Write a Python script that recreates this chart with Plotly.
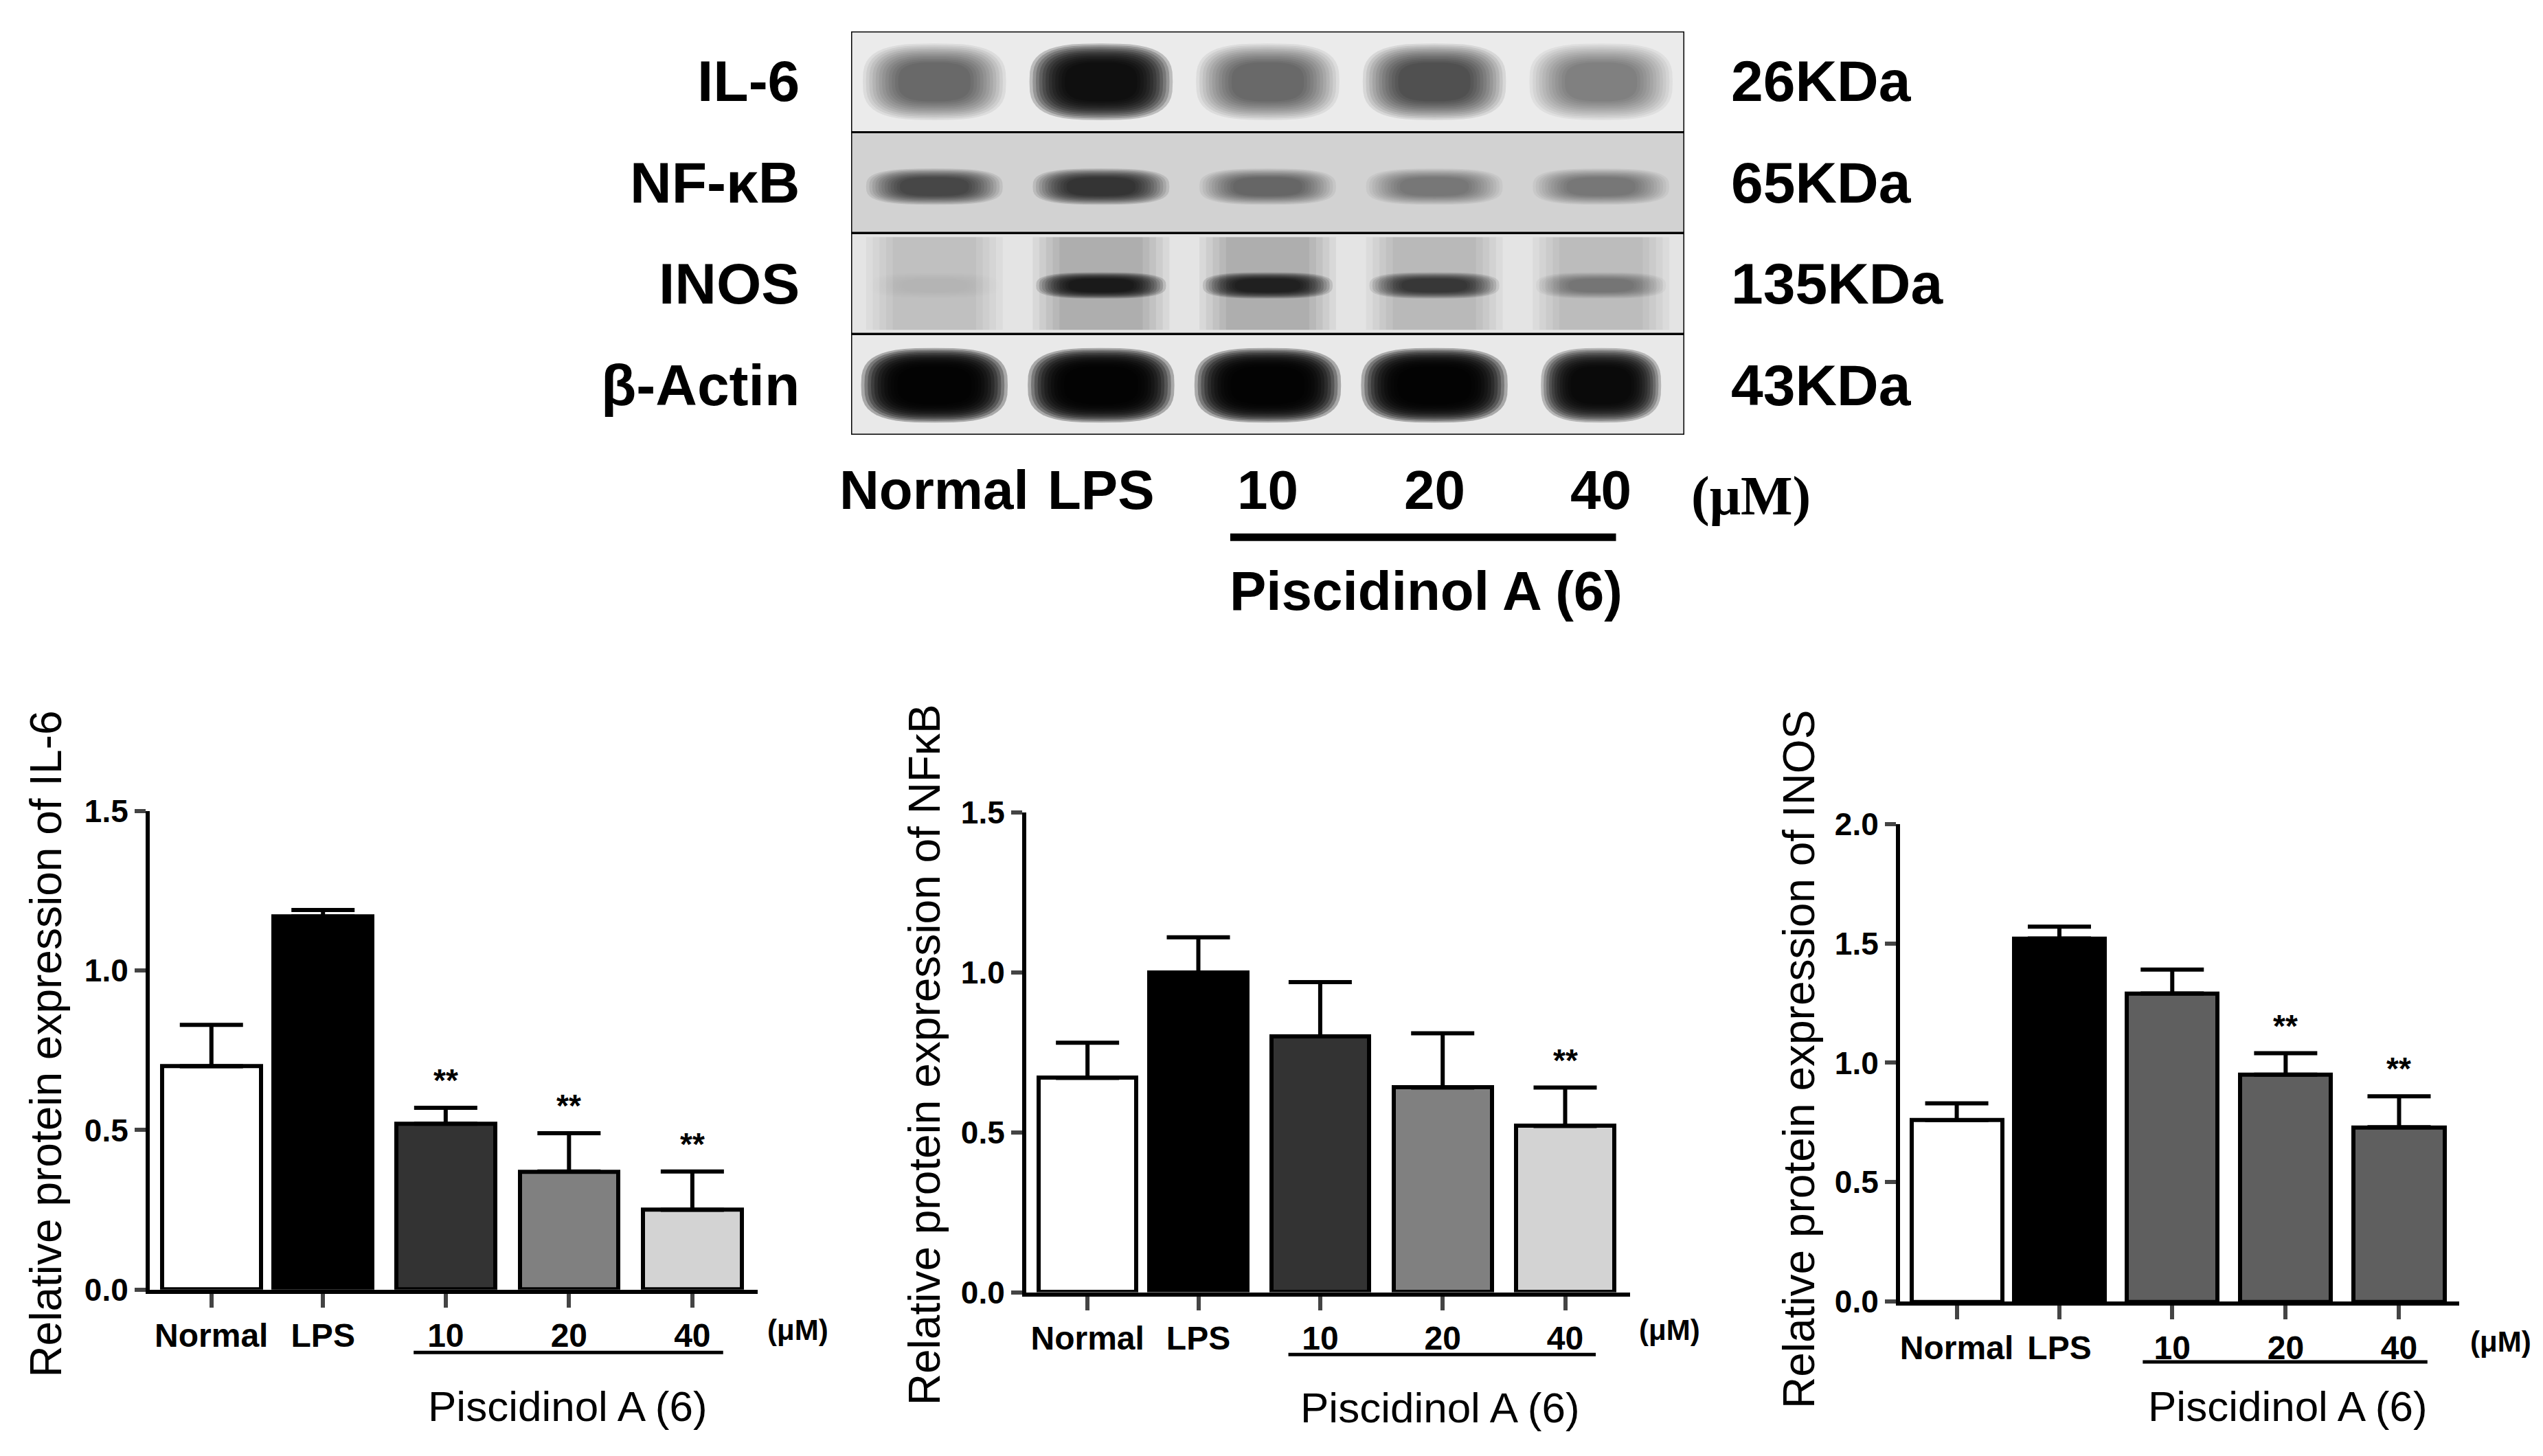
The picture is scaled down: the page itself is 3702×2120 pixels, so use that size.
import plotly.graph_objects as go

# bar chart data
groups = ["Normal", "LPS", "10", "20", "40"]
il6_mean = [0.70, 1.17, 0.52, 0.37, 0.25]
il6_upper = [0.83, 1.19, 0.57, 0.49, 0.37]
nfkb_mean = [0.67, 1.00, 0.80, 0.64, 0.52]
nfkb_upper = [0.78, 1.11, 0.97, 0.81, 0.64]
inos_mean = [0.76, 1.52, 1.29, 0.95, 0.73]
inos_upper = [0.83, 1.57, 1.39, 1.04, 0.86]
il6_sig = ["", "", "**", "**", "**"]
nfkb_sig = ["", "", "", "", "**"]
inos_sig = ["", "", "", "**", "**"]

# western blot band darkness per lane (0 = none, 1 = saturated)
blot_rows = ["IL-6", "NF-κB", "INOS", "β-Actin"]
blot_kda = ["26KDa", "65KDa", "135KDa", "43KDa"]
il6_band = [0.55, 0.95, 0.55, 0.65, 0.45]
nfkb_band = [0.65, 0.75, 0.5, 0.42, 0.42]
inos_band = [0.05, 0.85, 0.8, 0.7, 0.35]
inos_smear = [0.15, 0.25, 0.25, 0.2, 0.17]
actin_band = [1.0, 1.0, 1.0, 1.0, 0.97]

W, H = 3702, 2120
FONT = "Arial, Liberation Sans, sans-serif"


def px(x):
    return x / W


def py(y):
    return 1 - y / H


def note(x, y, text, size, bold=False, xref="paper", yref="paper", xanchor="center",
         angle=0, family=FONT, yshift=0):
    f = dict(family=family, size=size, color="black")
    if bold:
        f["weight"] = "bold"
    return dict(x=x, y=y, xref=xref, yref=yref, text=text, showarrow=False,
                xanchor=xanchor, yanchor="middle", textangle=angle, yshift=yshift, font=f)


def blob(cx, cy, a, b, p=3.0, m=48):
    # rounded-rectangle outline (superellipse) as an svg path in data units
    import math
    pts = []
    for k in range(m):
        t = 2 * math.pi * k / m
        c, s = math.cos(t), math.sin(t)
        x = cx + a * math.copysign(abs(c) ** (2 / p), c)
        y = cy + b * math.copysign(abs(s) ** (2 / p), s)
        pts.append(f"{x:.4f},{y:.4f}")
    return "M" + " L".join(pts) + " Z"


fig = go.Figure()

slots = [0, 0.905, 1.9, 2.9, 3.9]
panels = [
    dict(mean=il6_mean, upper=il6_upper, sig=il6_sig, yr=[0, 1.5],
         colors=["#ffffff", "#000000", "#333333", "#808080", "#d3d3d3"],
         xd=[px(210), px(1095)], yd=[py(1890), py(1176)],
         title="Relative protein expression of IL-6", tx=59, ty=1524,
         um=(1153, 1950), line_y=1984, pis=(818, 2064)),
    dict(mean=nfkb_mean, upper=nfkb_upper, sig=nfkb_sig, yr=[0, 1.5],
         colors=["#ffffff", "#000000", "#333333", "#808080", "#d3d3d3"],
         xd=[px(1486), px(2365)], yd=[py(1894), py(1178)],
         title="Relative protein expression of NFκB", tx=1338, ty=1540,
         um=(2422, 1950), line_y=1987, pis=(2088, 2066)),
    dict(mean=inos_mean, upper=inos_upper, sig=inos_sig, yr=[0, 2.0],
         colors=["#ffffff", "#000000", "#5f5f5f", "#5f5f5f", "#5f5f5f"],
         xd=[px(2758), px(3572)], yd=[py(1908), py(1195)],
         title="Relative protein expression of INOS", tx=2611, ty=1547,
         um=(3632, 1968), line_y=1998, pis=(3322, 2064)),
]

annotations = []
shapes = []
layout_axes = {}

for i, p in enumerate(panels, start=1):
    xa = "x" if i == 1 else f"x{i}"
    ya = "y" if i == 1 else f"y{i}"
    fig.add_trace(go.Bar(
        x=slots, y=p["mean"], width=0.80, xaxis=xa, yaxis=ya,
        marker=dict(color=p["colors"], line=dict(color="black", width=6)),
        error_y=dict(type="data", symmetric=False,
                     array=[u - m for u, m in zip(p["upper"], p["mean"])],
                     arrayminus=[0] * 5, thickness=6, width=46, color="black"),
        showlegend=False, hoverinfo="skip",
    ))
    layout_axes["xaxis" if i == 1 else f"xaxis{i}"] = dict(
        domain=p["xd"], range=[-0.5, 4.43], anchor=ya,
        tickvals=slots, ticktext=groups, ticks="outside", ticklen=20, tickwidth=6,
        showline=True, linewidth=6, linecolor="black", showgrid=False, zeroline=False,
        tickfont=dict(family=FONT, size=48, color="black", weight="bold"),
    )
    layout_axes["yaxis" if i == 1 else f"yaxis{i}"] = dict(
        domain=p["yd"], range=p["yr"], anchor=xa, dtick=0.5, tickformat=".1f",
        ticks="outside", ticklen=16, tickwidth=6,
        showline=True, linewidth=6, linecolor="black", showgrid=False, zeroline=False,
        tickfont=dict(family=FONT, size=46, color="black", weight="bold"),
    )
    for s, u, txt in zip(slots, p["upper"], p["sig"]):
        if txt:
            annotations.append(note(s, u, txt, 46, bold=True, xref=xa, yref=ya, yshift=40))
    annotations.append(note(px(p["tx"]), py(p["ty"]), p["title"], 64, angle=-90))
    annotations.append(note(px(p["um"][0]), py(p["um"][1]), "(μM)", 42, bold=True))
    annotations.append(note(px(p["pis"][0]), py(p["pis"][1]), "Piscidinol A (6)", 62))
    shapes.append(dict(type="line", xref=xa, yref="paper", x0=1.64, x1=4.15,
                       y0=py(p["line_y"]), y1=py(p["line_y"]),
                       line=dict(color="black", width=5)))

# ---- western blot panel (axis 4) ----
layout_axes["xaxis4"] = dict(domain=[px(1231), px(2444)], range=[-0.5, 4.5], anchor="y4",
                             visible=False, fixedrange=True)
layout_axes["yaxis4"] = dict(domain=[py(614), py(12)], range=[0, 4], anchor="x4",
                             visible=False, fixedrange=True)
# invisible trace so the blot axes exist
fig.add_trace(go.Scatter(x=[0], y=[0], xaxis="x4", yaxis="y4", mode="markers",
                         marker=dict(opacity=0), showlegend=False, hoverinfo="skip"))

row_bg = ["#ebebeb", "#d2d2d2", "#e4e4e4", "#e9e9e9"]
# (band values, vertical centre within row, half height, half width)
row_bands = [
    (il6_band, 0.50, 0.38, 0.43),
    (nfkb_band, 0.46, 0.18, 0.41),
    (inos_band, 0.48, 0.13, 0.39),
    (actin_band, 0.49, 0.37, 0.44),
]

n = 12
for r in range(4):
    y0 = 3 - r
    shapes.append(dict(type="rect", xref="x4", yref="y4", x0=-0.5, x1=4.5, y0=y0, y1=y0 + 1,
                       fillcolor=row_bg[r], line=dict(width=0), layer="below"))
    if blot_rows[r] == "INOS":
        for lane, sm in enumerate(inos_smear):
            for k in range(5):
                w = 0.41 - 0.04 * k
                shapes.append(dict(type="rect", xref="x4", yref="y4",
                                   x0=lane - w, x1=lane + w, y0=y0 + 0.04, y1=y0 + 0.96,
                                   fillcolor="black", opacity=sm / 5, line=dict(width=0),
                                   layer="below"))
    vals, cy, hh, hw = row_bands[r]
    for lane, v in enumerate(vals):
        if v <= 0:
            continue
        hw_l = hw * (0.82 if (blot_rows[r] == "β-Actin" and lane == 4) else 1.0)
        a = 1 - (1 - 0.98 * v) ** (1 / n)
        for k in range(n):
            f = 1 - 0.045 * k
            shapes.append(dict(type="path", xref="x4", yref="y4",
                               path=blob(lane, y0 + cy, hw_l * f, hh * f),
                               fillcolor="black", opacity=a, line=dict(width=0)))
    shapes.append(dict(type="rect", xref="x4", yref="y4", x0=-0.5, x1=4.5, y0=y0, y1=y0 + 1,
                       fillcolor="rgba(0,0,0,0)", line=dict(color="black", width=3)))

label_y = [86, 238, 389, 540]
for name, kda, ly in zip(blot_rows, blot_kda, label_y):
    annotations.append(note(px(1158), py(ly), name, 84, bold=True, xanchor="right"))
    annotations.append(note(px(2510), py(ly), kda, 84, bold=True, xanchor="left"))

for lane, g in enumerate(groups):
    annotations.append(note(lane, py(697), g, 80, bold=True, xref="x4"))
annotations.append(note(px(2452), py(706), "(μM)", 80, bold=True, xanchor="left",
                        family="Times New Roman, Liberation Serif, serif"))
shapes.append(dict(type="line", xref="x4", yref="paper", x0=1.775, x1=4.09,
                   y0=py(767), y1=py(767), line=dict(color="black", width=11)))
annotations.append(note(px(2068), py(847), "Piscidinol A (6)", 80, bold=True))

fig.update_layout(
    width=W, height=H, margin=dict(l=0, r=0, t=0, b=0),
    paper_bgcolor="white", plot_bgcolor="white",
    annotations=annotations, shapes=shapes, bargap=0,
    **layout_axes,
)

fig.write_html("out.html")
